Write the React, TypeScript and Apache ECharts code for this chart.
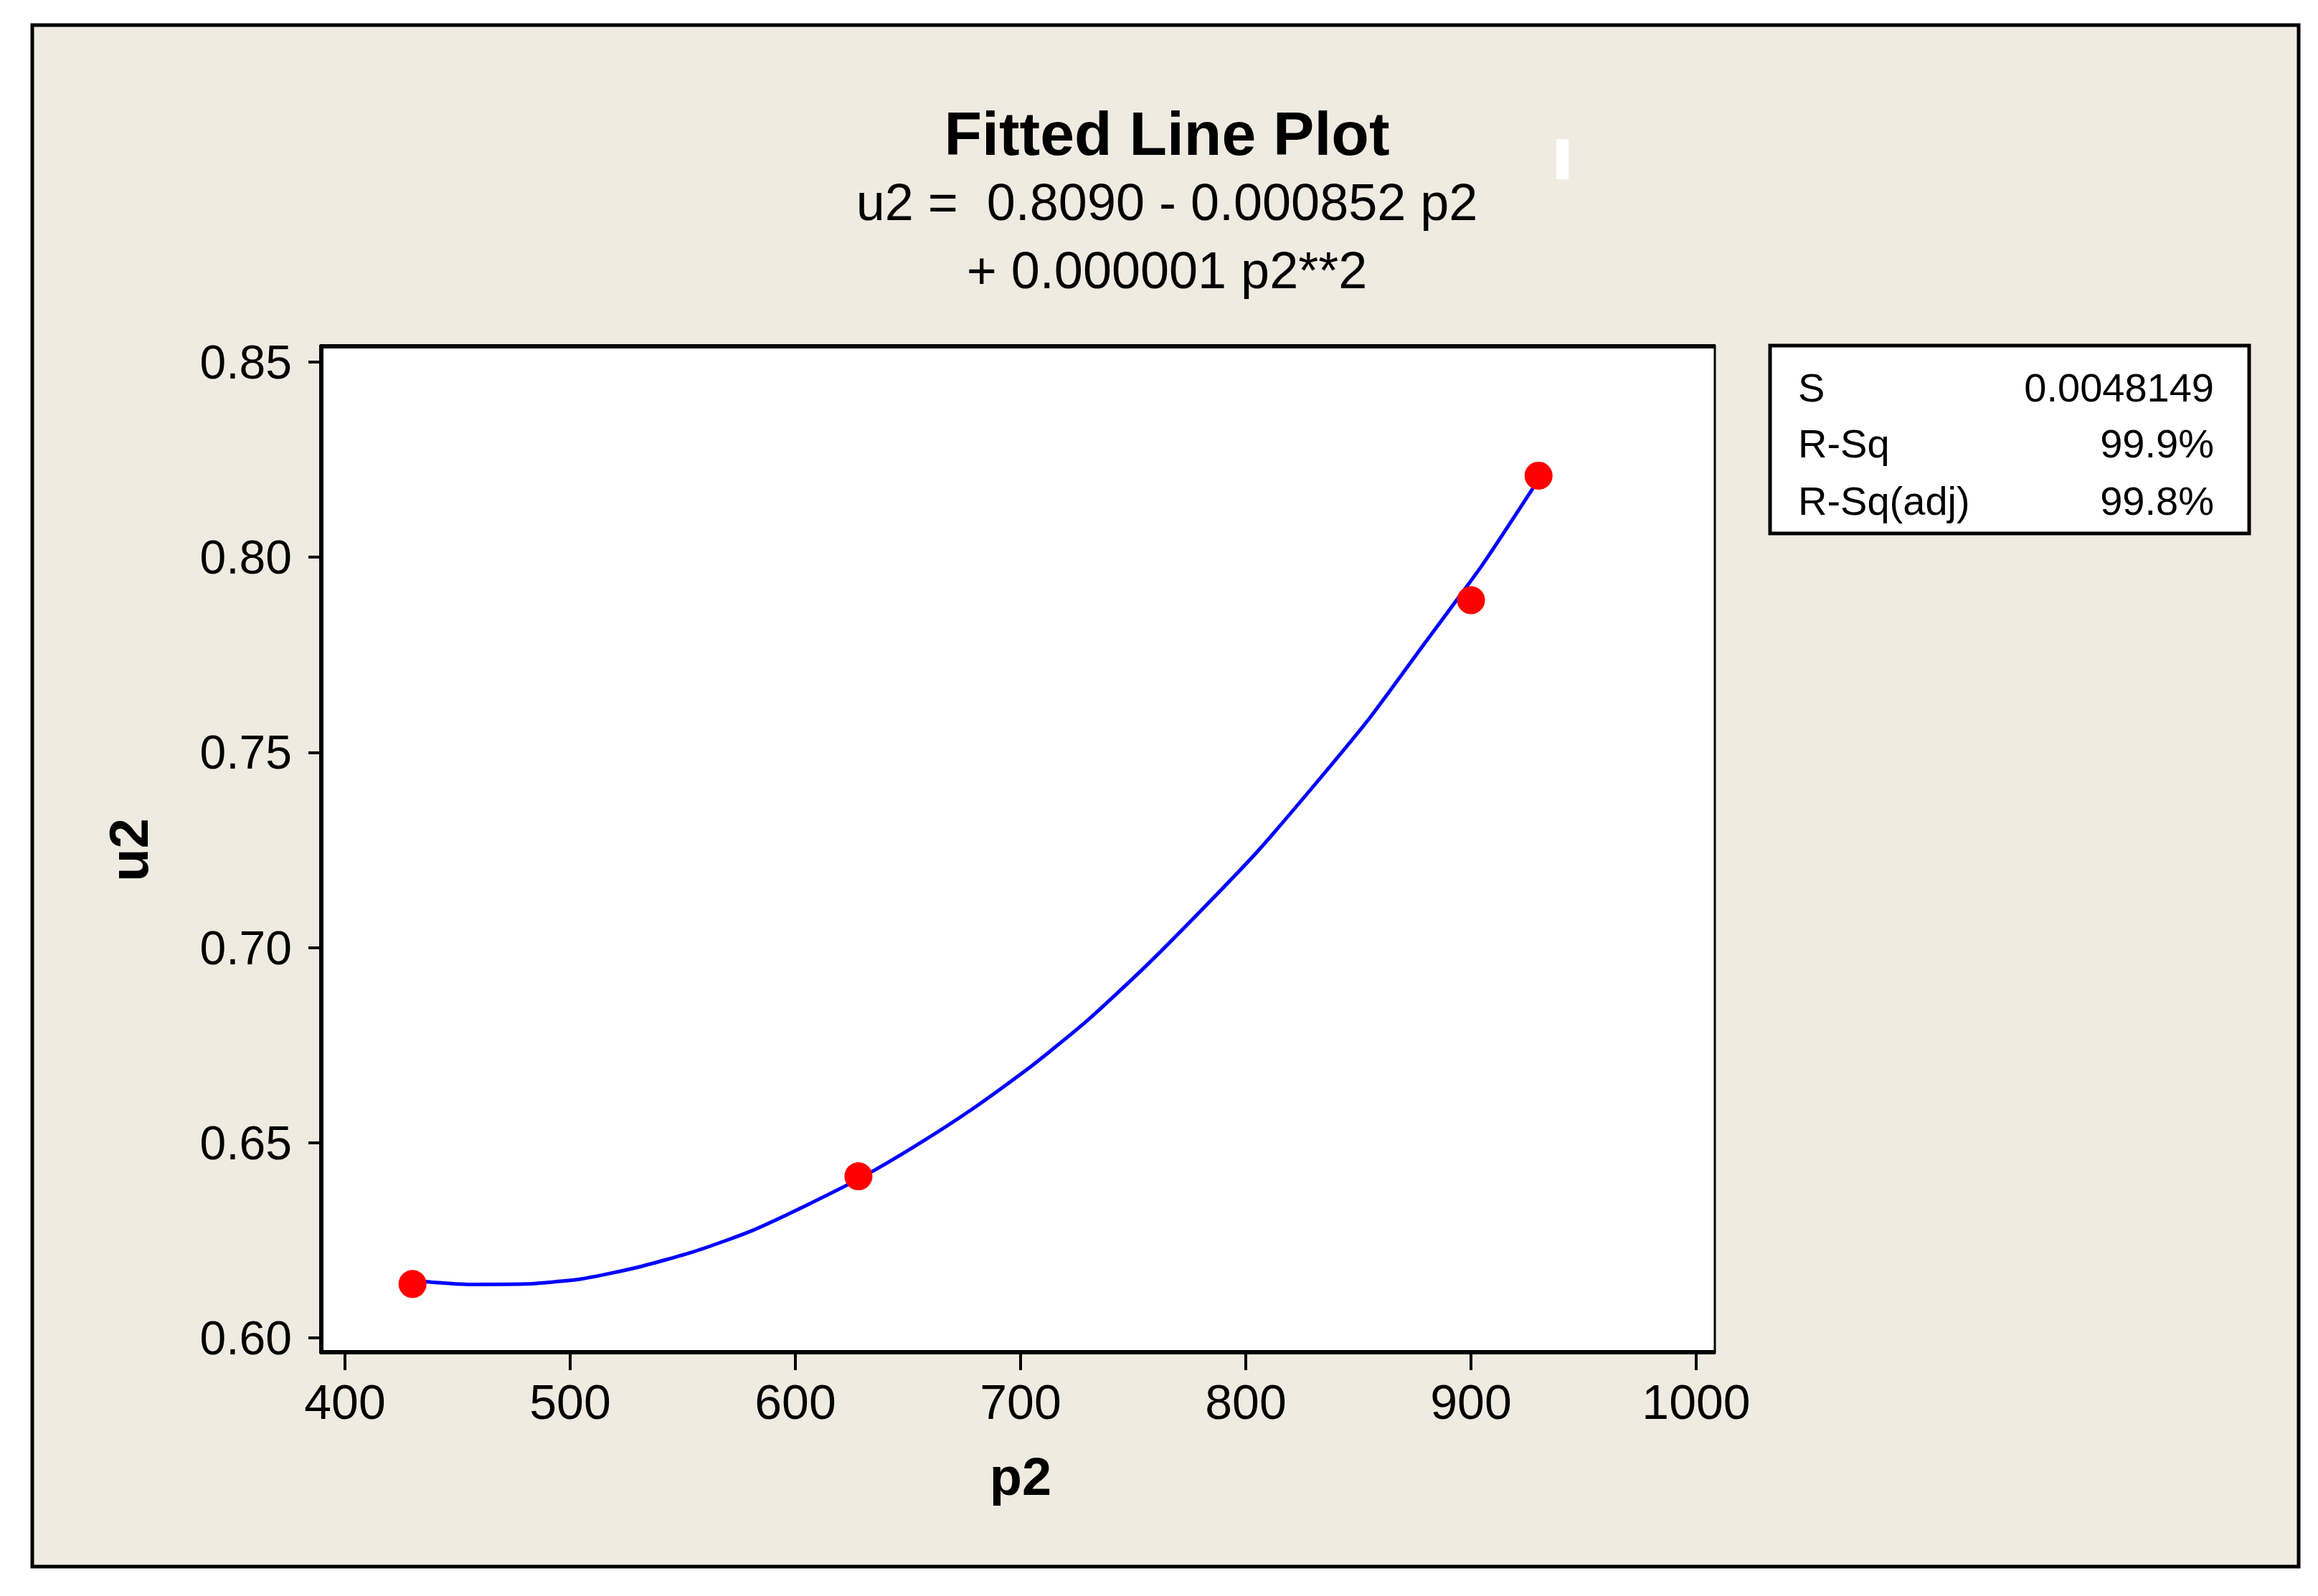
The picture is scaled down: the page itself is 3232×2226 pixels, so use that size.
import React, { useEffect, useRef } from "react";
import * as echarts from "echarts";

// Observed data points (p2, u2)
const pointsP2 = [430, 628, 900, 930];
const pointsU2 = [0.6138, 0.6414, 0.789, 0.8209];

// Fitted curve
const curveP2 = [430, 455, 480, 505, 530, 555, 580, 605, 630, 655, 680, 705, 730, 755, 780, 805, 830, 855, 880, 905, 930];
const curveU2 = [0.6147, 0.6137, 0.6138, 0.6151, 0.6181, 0.6221, 0.6273, 0.6340, 0.6413, 0.6498, 0.6592, 0.6697, 0.6815, 0.6949, 0.7094, 0.7245, 0.7413, 0.7588, 0.7784, 0.7980, 0.8199];

// Axis settings
const xMin = 400, xMax = 1000, xStep = 100;
const yMin = 0.6, yMax = 0.85, yStep = 0.05;

// Titles and stats
const titleText = "Fitted Line Plot";
const equationLines = ["u2 =  0.8090 - 0.000852 p2", "+ 0.000001 p2**2"];
const statLabels = ["S", "R-Sq", "R-Sq(adj)"];
const statValues = ["0.0048149", "99.9%", "99.8%"];

const FONT = "'Liberation Sans', Arial, sans-serif";

export default function App() {
  const ref = useRef<HTMLDivElement>(null);
  useEffect(() => {
    document.body.style.margin = "0";
    const chart = echarts.init(ref.current!, null, { renderer: "svg" });
    const statRowsY = [540, 618, 698];
    const statElems: any[] = [];
    statLabels.forEach((l, i) => {
      statElems.push({
        type: "text", z: 100, x: 2507, y: statRowsY[i],
        style: { text: l, fill: "#000", font: `56px ${FONT}`, textAlign: "left", textVerticalAlign: "middle" },
      });
      statElems.push({
        type: "text", z: 100, x: 3087, y: statRowsY[i],
        style: { text: statValues[i], fill: "#000", font: `56px ${FONT}`, textAlign: "right", textVerticalAlign: "middle" },
      });
    });
    chart.setOption({
      animation: false,
      backgroundColor: "#ffffff",
      textStyle: { fontFamily: FONT },
      title: [
        {
          text: titleText, left: 1622, top: 138, textAlign: "center",
          textStyle: { fontSize: 86, fontWeight: "bold", color: "#000", fontFamily: FONT },
        },
        {
          text: equationLines.join("\n"), left: 1622, top: 229, textAlign: "center",
          textStyle: { fontSize: 72, fontWeight: "normal", color: "#000", lineHeight: 95, fontFamily: FONT },
        },
      ],
      grid: { left: 481, top: 505, width: 1884, height: 1361, show: false },
      xAxis: {
        type: "value", min: xMin, max: xMax, interval: xStep,
        position: "bottom", offset: 20,
        name: "p2", nameLocation: "middle", nameGap: 136,
        nameTextStyle: { fontSize: 74, fontWeight: "bold", color: "#000", fontFamily: FONT },
        axisLine: { show: false },
        axisTick: { show: true, length: 25, lineStyle: { color: "#000", width: 4 } },
        axisLabel: { fontSize: 68, color: "#000", margin: 35, fontFamily: FONT, formatter: (v: number) => String(v) },
        splitLine: { show: false },
      },
      yAxis: {
        type: "value", min: yMin, max: yMax, interval: yStep,
        position: "left", offset: 33,
        name: "u2", nameLocation: "middle", nameGap: 231,
        nameTextStyle: { fontSize: 76, fontWeight: "bold", color: "#000", fontFamily: FONT },
        axisLine: { show: false },
        axisTick: { show: true, length: 18, lineStyle: { color: "#000", width: 4 } },
        axisLabel: { fontSize: 66, color: "#000", margin: 41, fontFamily: FONT, formatter: (v: number) => v.toFixed(2) },
        splitLine: { show: false },
      },
      graphic: [
        { type: "rect", z: -10, shape: { x: 45, y: 35, width: 3160, height: 2150 }, style: { fill: "#EFEBE1", stroke: "#000", lineWidth: 5 } },
        { type: "rect", z: -5, shape: { x: 2170, y: 194, width: 17, height: 56 }, style: { fill: "#fff" } },
        { type: "rect", z: -5, shape: { x: 448, y: 483, width: 1943, height: 1403 }, style: { fill: "#fff", stroke: "#000", lineWidth: 3 } },
        { type: "line", z: -4, shape: { x1: 448, y1: 481, x2: 448, y2: 1888 }, style: { stroke: "#000", lineWidth: 6 } },
        { type: "line", z: -4, shape: { x1: 446, y1: 483, x2: 2392, y2: 483 }, style: { stroke: "#000", lineWidth: 6 } },
        { type: "line", z: -4, shape: { x1: 446, y1: 1886, x2: 2392, y2: 1886 }, style: { stroke: "#000", lineWidth: 6 } },
        { type: "rect", z: 90, shape: { x: 2468, y: 482, width: 668, height: 262 }, style: { fill: "#fff", stroke: "#000", lineWidth: 5 } },
        ...statElems,
      ],
      series: [
        {
          type: "line", name: "fit", data: curveP2.map((x, i) => [x, curveU2[i]]),
          showSymbol: false, smooth: 0.2, z: 3,
          lineStyle: { color: "#0000FF", width: 5 },
        },
        {
          type: "scatter", name: "data", data: pointsP2.map((x, i) => [x, pointsU2[i]]),
          symbol: "circle", symbolSize: 39, z: 4,
          itemStyle: { color: "#FF0000", opacity: 1 },
        },
      ],
    });
    return () => chart.dispose();
  }, []);
  return (
    <div
      ref={ref}
      style={{ position: "absolute", left: 0, top: 0, width: 3232, height: 2226, background: "#fff" }}
    />
  );
}
